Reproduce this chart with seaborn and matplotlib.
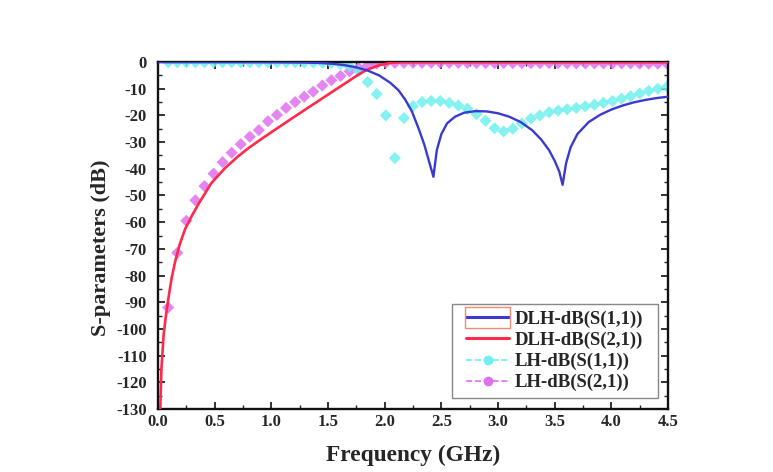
import numpy as np
import pandas as pd
import matplotlib
matplotlib.use("Agg")
import matplotlib.pyplot as plt
import seaborn as sns
from matplotlib.lines import Line2D
from matplotlib.patches import Rectangle
from matplotlib.ticker import MultipleLocator

# ---- data ----
dlh_s11_f = [0.0, 0.5, 1.0, 1.3, 1.45, 1.55, 1.65, 1.75, 1.85, 1.95, 2.05, 2.12, 2.18, 2.24,
             2.30, 2.35, 2.39, 2.43, 2.46, 2.50, 2.55, 2.62, 2.70, 2.80, 2.90, 3.00, 3.10,
             3.20, 3.30, 3.38, 3.45, 3.50, 3.54, 3.57, 3.60, 3.64, 3.70, 3.80, 3.90, 4.00,
             4.10, 4.20, 4.30, 4.40, 4.50]
dlh_s11_db = [0.0, 0.0, -0.05, -0.2, -0.4, -0.7, -1.2, -2.0, -3.2, -5.0, -7.8, -10.5, -14.0, -18.5,
              -25.0, -31.0, -37.0, -43.0, -33.0, -27.0, -23.0, -20.5, -19.0, -18.4, -18.5, -19.2, -20.5,
              -22.5, -25.5, -29.0, -33.0, -37.0, -41.0, -46.0, -38.0, -32.0, -27.0, -22.5, -19.8, -17.8,
              -16.3, -15.1, -14.2, -13.5, -13.0]

dlh_s21_f = [0.02, 0.03, 0.05, 0.07, 0.09, 0.12, 0.15, 0.19, 0.24, 0.30, 0.36, 0.47, 0.59, 0.71,
             0.80, 0.90, 1.00, 1.20, 1.50, 1.78, 1.84, 1.95, 2.05, 2.15, 3.00, 4.50]
dlh_s21_db = [-130.0, -115.0, -102.0, -95.0, -89.0, -81.0, -75.0, -68.5, -62.5, -57.5, -53.0, -45.4,
              -39.8, -35.2, -32.2, -29.2, -26.3, -20.6, -12.2, -4.4, -3.0, -1.2, -0.3, 0.0, 0.0, 0.0]

lh_f = np.round(np.linspace(0.09, 4.49, 56), 2)
lh_s11_db = [-0.1, -0.1, -0.1, -0.1, -0.1, -0.1, -0.1, -0.1, -0.1, -0.1,
             -0.1, -0.1, -0.1, -0.1, -0.1, -0.2, -0.2, -0.3,
             -0.4, -0.8, -1.6, -3.5,
             -7.5, -12.0, -20.0, -36.0, -21.0, -16.5, -15.0, -14.6, -14.6, -15.3,
             -16.3, -17.5, -19.5, -22.0, -24.8, -26.0, -25.0, -23.0, -21.2, -20.0,
             -18.8, -18.2, -17.7, -17.2, -16.6, -16.0, -15.3, -14.6, -13.7, -12.8,
             -11.8, -10.8, -10.0, -9.3]
lh_s21_db = [-92.0, -71.5, -59.5, -51.8, -46.5, -41.8, -37.5, -34.0, -30.8, -28.0,
             -25.5, -22.2, -19.8, -17.2, -15.0, -13.0, -11.1, -8.8, -6.8, -5.2,
             -3.5, -2.2, -1.3, -0.6,
             -0.3, -0.3, -0.3, -0.3, -0.3, -0.3, -0.3, -0.3, -0.3, -0.3,
             -0.4, -0.4, -0.4, -0.4, -0.4, -0.4, -0.4, -0.4, -0.4, -0.4,
             -0.5, -0.5, -0.5, -0.5, -0.5, -0.5, -0.5, -0.5, -0.6, -0.6,
             -0.6, -0.6]

labels = ["DLH-dB(S(1,1))", "DLH-dB(S(2,1))", "LH-dB(S(1,1))", "LH-dB(S(2,1))"]
colors = ["#3a3ad0", "#ff2a4a", "#6ef0ee", "#e070f0"]

# ---- plot ----
sns.set_theme(style="ticks")
plt.rcParams['font.family'] = ['Liberation Serif', 'DejaVu Serif']
plt.rcParams['font.weight'] = 'bold'

fig = plt.figure(figsize=(7.73, 4.72), dpi=100)
ax = fig.add_axes([0.2044, 0.1335, 0.6598, 0.7351])

df_lh = pd.DataFrame({"f": lh_f, "s11": lh_s11_db, "s21": lh_s21_db})
sns.scatterplot(data=df_lh, x="f", y="s21", ax=ax, color=colors[3], marker="D", s=38,
                edgecolor="none", alpha=0.85, zorder=2)
sns.scatterplot(data=df_lh, x="f", y="s11", ax=ax, color=colors[2], marker="D", s=38,
                edgecolor="none", alpha=0.85, zorder=2)
sns.lineplot(x=dlh_s21_f, y=dlh_s21_db, ax=ax, color=colors[1], lw=1.9, zorder=3)
sns.lineplot(x=dlh_s11_f, y=dlh_s11_db, ax=ax, color=colors[0], lw=1.7, zorder=4)

ax.xaxis.set_minor_locator(MultipleLocator(0.25))
ax.yaxis.set_minor_locator(MultipleLocator(5))
ax.tick_params(which="both", direction="in", top=True, right=True, color="#222222")
ax.tick_params(which="major", length=5, width=1.3, labelsize=12)
ax.tick_params(which="minor", length=3, width=1.0)
ax.tick_params(axis="y", which="major", pad=8)
for s in ax.spines.values():
    s.set_linewidth(1.7)
    s.set_color("#111111")
xt = np.arange(0, 4.51, 0.5)
ax.set_xticks(xt)
ax.set_xticklabels([f"{v:.1f}" for v in xt], fontweight="bold")
yt = np.arange(-130, 1, 10)
ax.set_yticks(yt)
ax.set_yticklabels([f"{int(v)}" for v in yt], fontweight="bold")
ax.set_xlim(0, 4.5)
ax.set_ylim(-130, 0)

ax.set_xlabel("Frequency (GHz)", fontsize=16.8, fontweight="bold", labelpad=11)
ax.set_ylabel("S-parameters (dB)", fontsize=16, fontweight="bold")
ax.yaxis.set_label_coords(-0.092, 0.464)

handles = [
    Line2D([0], [0], color=colors[0], lw=2.2),
    Line2D([0], [0], color=colors[1], lw=2.2),
    Line2D([0], [0], color=colors[2], lw=1.2, ls="--", marker="o", markersize=6),
    Line2D([0], [0], color=colors[3], lw=1.2, ls="--", marker="o", markersize=6),
]
# legend frame drawn separately so its padding can match the reference
fx0, fx1, fy0, fy1 = 0.5765, 0.980, 0.0317, 0.3026
ax.add_patch(Rectangle((fx0, fy0), fx1 - fx0, fy1 - fy0, transform=ax.transAxes,
                       facecolor="white", edgecolor="#888888", lw=1.0, zorder=5))
leg = ax.legend(handles, labels, loc="center",
                bbox_to_anchor=((fx0 + fx1) / 2, (fy0 + fy1) / 2),
                borderaxespad=0.0, frameon=False,
                handlelength=2.3, borderpad=0.0, labelspacing=0.2, handletextpad=0.3,
                prop={"family": "Liberation Serif", "weight": "bold", "size": 13.5})
leg.set_zorder(6)

# highlight box around the first legend handle
fig.canvas.draw()
r = fig.canvas.get_renderer()
hb = leg.legend_handles[0].get_window_extent(r)
inv = fig.transFigure.inverted()
cy = (hb.y0 + hb.y1) / 2
(x0, y0), (x1, y1) = inv.transform([(hb.x0 - 1, cy - 10.5), (hb.x1 + 1, cy + 10.5)])
fig.patches.append(Rectangle((x0, y0), x1 - x0, y1 - y0, transform=fig.transFigure,
                             fill=False, edgecolor="#f08a70", lw=1.0, zorder=10))

fig.savefig("out.png", dpi=100)
